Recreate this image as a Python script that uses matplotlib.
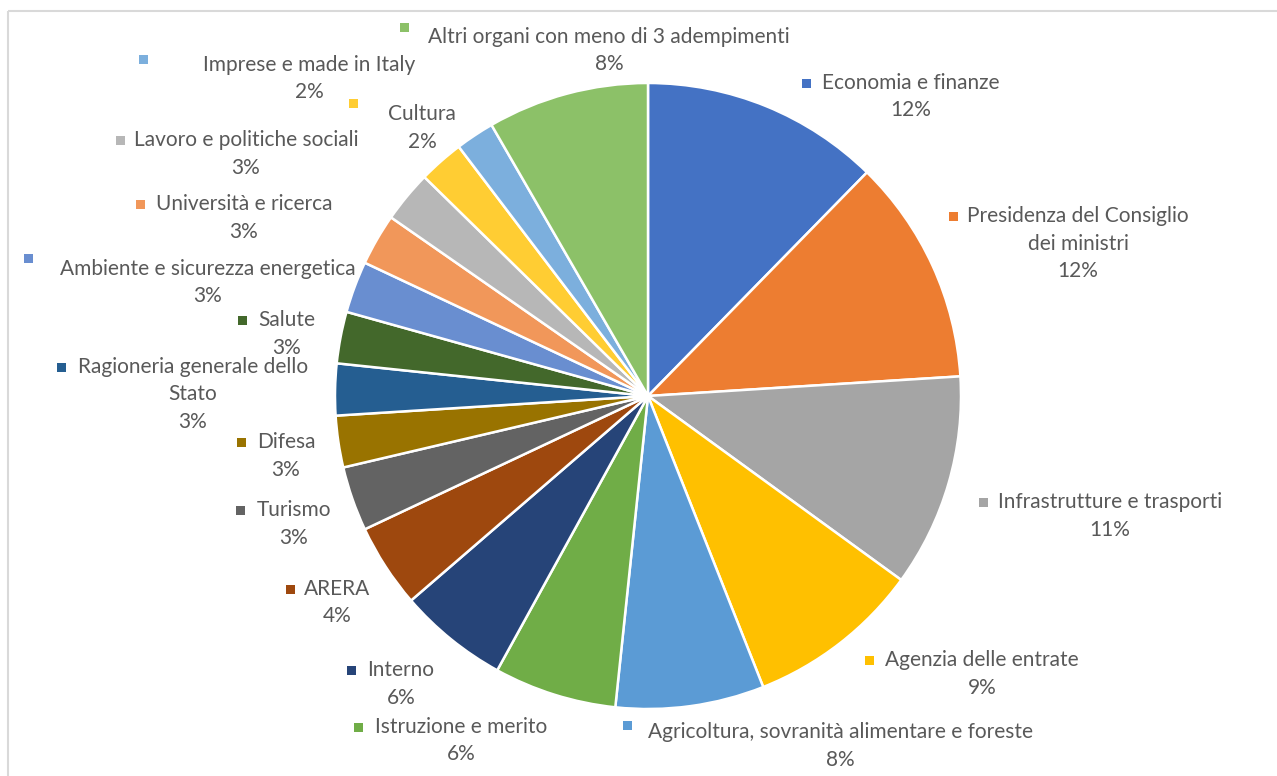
import matplotlib
matplotlib.use("Agg")
import matplotlib.pyplot as plt
from matplotlib.patches import Rectangle

# ---------------- data ----------------
categories = [
    "Economia e finanze",
    "Presidenza del Consiglio\ndei ministri",
    "Infrastrutture e trasporti",
    "Agenzia delle entrate",
    "Agricoltura, sovranità alimentare e foreste",
    "Istruzione e merito",
    "Interno",
    "ARERA",
    "Turismo",
    "Difesa",
    "Ragioneria generale dello\nStato",
    "Salute",
    "Ambiente e sicurezza energetica",
    "Università e ricerca",
    "Lavoro e politiche sociali",
    "Cultura",
    "Imprese e made in Italy",
    "Altri organi con meno di 3 adempimenti",
]
values = [37, 35, 33, 27, 23, 19, 17, 13, 10, 8, 8, 8, 8, 8, 8, 7, 6, 25]
colors = ["#4472C4", "#ED7D31", "#A5A5A5", "#FFC000", "#5B9BD5", "#70AD47",
          "#264478", "#9E480E", "#636363", "#997300", "#255E91", "#43682B",
          "#698ED0", "#F1975A", "#B7B7B7", "#FFCD33", "#7CAFDD", "#8CC168"]

# ---------------- layout (pixels) ----------------
W, H = 1277, 776
CX, CY, R = 648, 396, 313
# (text centre x, first line y, marker x, marker y offset)
label_layout = [
    (911, 83, 806, 0),
    (1078, 216, 953, 0),
    (1110, 502, 983, 0),
    (982, 660, 869, 0),
    (840, 732, 627, -7),
    (461, 727, 358, 0),
    (401, 670, 351, 0),
    (337, 589, 290, 0),
    (294, 510, 240, 0),
    (286, 442, 241, 0),
    (193, 367, 61, 0),
    (287, 320, 242, 0),
    (208, 269, 28, -11),
    (244, 204, 140, 0),
    (246, 140, 120, 0),
    (422, 114, 353, -11),
    (309, 65, 143, -6),
    (609, 37, 404, -10),
]
LINE_H = 27.5
TEXT_COLOR = "#595959"
FONT = ["Lato", "DejaVu Sans"]
FS = 15

fig = plt.figure(figsize=(W / 100, H / 100), dpi=100)
fig.patch.set_facecolor("white")

ax = fig.add_axes([(CX - R) / W, (H - CY - R) / H, 2 * R / W, 2 * R / H])
ax.pie(values, colors=colors, startangle=90, counterclock=False, radius=1,
       wedgeprops=dict(edgecolor="white", linewidth=1.8))
ax.set_xlim(-1, 1)
ax.set_ylim(-1, 1)
ax.set_aspect("auto")
ax.axis("off")

ov = fig.add_axes([0, 0, 1, 1], zorder=5)
ov.set_xlim(0, W)
ov.set_ylim(H, 0)
ov.axis("off")
ov.patch.set_alpha(0)

ov.add_patch(Rectangle((8, 11), W + 20, H + 20, fill=False,
                       edgecolor="#D9D9D9", linewidth=1.5))

total = sum(values)
for cat, v, col, (tx, ty, mx, mdy) in zip(categories, values, colors, label_layout):
    lines = cat.split("\n") + [f"{round(v / total * 100)}%"]
    for i, ln in enumerate(lines):
        ov.text(tx, ty + i * LINE_H, ln, ha="center", va="center",
                fontsize=FS, color=TEXT_COLOR, family=FONT)
    ov.add_patch(Rectangle((mx - 4.5, ty + mdy - 4.5), 9, 9,
                           facecolor=col, edgecolor="none"))

fig.savefig("out.png", dpi=100, facecolor="white")
